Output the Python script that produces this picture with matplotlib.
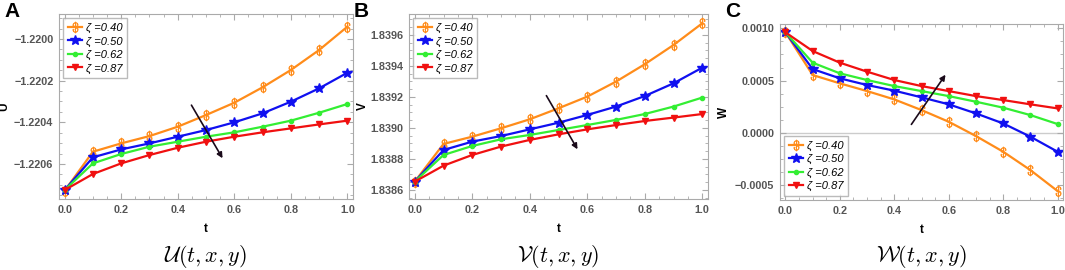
import matplotlib
matplotlib.use("Agg")
import matplotlib.pyplot as plt
from matplotlib.ticker import AutoMinorLocator, FixedLocator

plt.rcParams['font.family'] = ['Liberation Sans', 'DejaVu Sans']
plt.rcParams['mathtext.fontset'] = 'cm'

t = [0.0, 0.1, 0.2, 0.3, 0.4, 0.5, 0.6, 0.7, 0.8, 0.9, 1.0]
zeta_labels = ["0.40", "0.50", "0.62", "0.87"]

U_040 = [-1.220728, -1.220541, -1.220501, -1.220466, -1.220421, -1.220365, -1.220306, -1.220232, -1.220149, -1.220053, -1.219941]
U_050 = [-1.220725, -1.220568, -1.220530, -1.220501, -1.220469, -1.220437, -1.220400, -1.220357, -1.220301, -1.220237, -1.220162]
U_062 = [-1.220725, -1.220597, -1.220552, -1.220517, -1.220493, -1.220469, -1.220448, -1.220421, -1.220392, -1.220354, -1.220312]
U_087 = [-1.220725, -1.220648, -1.220597, -1.220557, -1.220522, -1.220493, -1.220469, -1.220448, -1.220429, -1.220410, -1.220392]

V_040 = [1.838654, 1.838897, 1.838944, 1.838998, 1.839056, 1.839127, 1.839202, 1.839299, 1.839411, 1.839535, 1.839675]
V_050 = [1.838654, 1.838858, 1.838912, 1.838948, 1.838991, 1.839034, 1.839084, 1.839138, 1.839206, 1.839288, 1.839389]
V_062 = [1.838654, 1.838826, 1.838884, 1.838927, 1.838955, 1.838987, 1.839019, 1.839052, 1.839090, 1.839138, 1.839196]
V_087 = [1.838654, 1.838757, 1.838826, 1.838880, 1.838923, 1.838959, 1.838991, 1.839019, 1.839045, 1.839067, 1.839090]

W_040 = [0.000962, 0.000553, 0.000473, 0.000399, 0.000319, 0.000217, 0.000105, -0.000032, -0.000182, -0.000358, -0.000559]
W_050 = [0.000962, 0.000610, 0.000521, 0.000457, 0.000403, 0.000339, 0.000272, 0.000185, 0.000089, -0.000038, -0.000182]
W_062 = [0.000962, 0.000671, 0.000569, 0.000505, 0.000447, 0.000399, 0.000351, 0.000297, 0.000240, 0.000169, 0.000083]
W_087 = [0.000962, 0.000783, 0.000671, 0.000585, 0.000505, 0.000447, 0.000399, 0.000351, 0.000313, 0.000272, 0.000233]

U_ticks = [-1.2206, -1.2204, -1.2202, -1.2200]
V_ticks = [1.8386, 1.8388, 1.8390, 1.8392, 1.8394, 1.8396]
W_ticks = [-0.0005, 0.0000, 0.0005, 0.0010]
x_ticks = [0.0, 0.2, 0.4, 0.6, 0.8, 1.0]

colors = ['#FF8C1A', '#1010F0', '#33EE33', '#F01010']
markers = [r'$\$$', '*', 'o', 'v']
msizes = [8, 7, 3, 5]
mews = [0.4, 1.0, 1.0, 1.0]

fig = plt.figure(figsize=(10.65, 2.70), dpi=100)
W, H = 1065, 270

def add_ax(l, r, top, bot):
    return fig.add_axes([l / W, 1 - bot / H, (r - l) / W, (bot - top) / H])

axA = add_ax(59, 353, 14, 199)
axB = add_ax(409, 708, 14, 199)
axC = add_ax(780, 1063, 24, 200)

panels = [
    (axA, [U_040, U_050, U_062, U_087], U_ticks, (-1.220768, -1.21988), 'U', -0.165,
     ((0.4435, -1.220306), (0.5635, -1.220584)), 'upper left', 'A', r'$\mathcal{U}(t,x,y)$'),
    (axB, [V_040, V_050, V_062, V_087], V_ticks, (1.838542, 1.839735), 'V', -0.135,
     ((0.453, 1.839224), (0.571, 1.838847)), 'upper left', 'B', r'$\mathcal{V}(t,x,y)$'),
    (axC, [W_040, W_050, W_062, W_087], W_ticks, (-0.000645, 0.001042), 'W', -0.175,
     ((0.457, 0.0000575), (0.594, 0.000578)), 'lower left', 'C', r'$\mathcal{W}(t,x,y)$'),
]

for ax, series, yt, ylim, ylab, ylx, arrow, legloc, letter, mathlab in panels:
    if letter == 'C':
        ax.axhline(0, color='#cccccc', lw=1.0, zorder=0)
    for ys, c, m, ms, mw, lab in zip(series, colors, markers, msizes, mews, zeta_labels):
        ax.plot(t, ys, color=c, marker=m, ms=ms, lw=1.6, mec=c, mfc=c, mew=mw,
                label='\u03b6 =' + lab)
    ax.set_xlim(-0.02, 1.02)
    ax.set_ylim(*ylim)
    ax.yaxis.set_major_locator(FixedLocator(yt))
    ax.xaxis.set_major_locator(FixedLocator(x_ticks))
    ax.xaxis.set_minor_locator(AutoMinorLocator(4))
    ax.yaxis.set_minor_locator(AutoMinorLocator(4))
    ax.set_yticklabels([('%.4f' % v).replace('-', '\u2212') for v in yt])
    ax.set_xticklabels(['%.1f' % v for v in x_ticks])
    ax.tick_params(which='both', direction='in', color='#aaaaaa', top=True, right=True)
    ax.tick_params(which='major', length=4, labelsize=7.8, labelcolor='#555555', pad=4)
    ax.tick_params(which='minor', length=2)
    for lab in ax.get_xticklabels() + ax.get_yticklabels():
        lab.set_fontweight('bold')
    for sp in ax.spines.values():
        sp.set_color('#aaaaaa')
    ax.set_xlabel('t', fontsize=8.5, fontweight='bold', labelpad=6)
    ax.set_ylabel(ylab, fontsize=8.5, fontweight='bold')
    ax.yaxis.set_label_coords(ylx, 0.5)
    (x0, y0), (x1, y1) = arrow
    ax.annotate('', xy=(x1, y1), xytext=(x0, y0),
                arrowprops=dict(arrowstyle='-|>', color='#1a0a1a', lw=1.2, mutation_scale=8))
    leg = ax.legend(loc=legloc, fontsize=8, frameon=True, fancybox=False,
                    edgecolor='#aaaaaa', handlelength=1.3, borderpad=0.4,
                    labelspacing=0.3, handletextpad=0.3, borderaxespad=0.4)
    for txt in leg.get_texts():
        txt.set_fontstyle('italic')
    bb = ax.get_position()
    fig.text(bb.x0 - 55 / W, 1 - 2 / H, letter, fontsize=15, fontweight='bold',
             va='top', ha='left')
    fig.text((bb.x0 + bb.x1) / 2, 1 - 256 / H, mathlab, fontsize=16,
             ha='center', va='center')

fig.savefig('out.png', dpi=100)
